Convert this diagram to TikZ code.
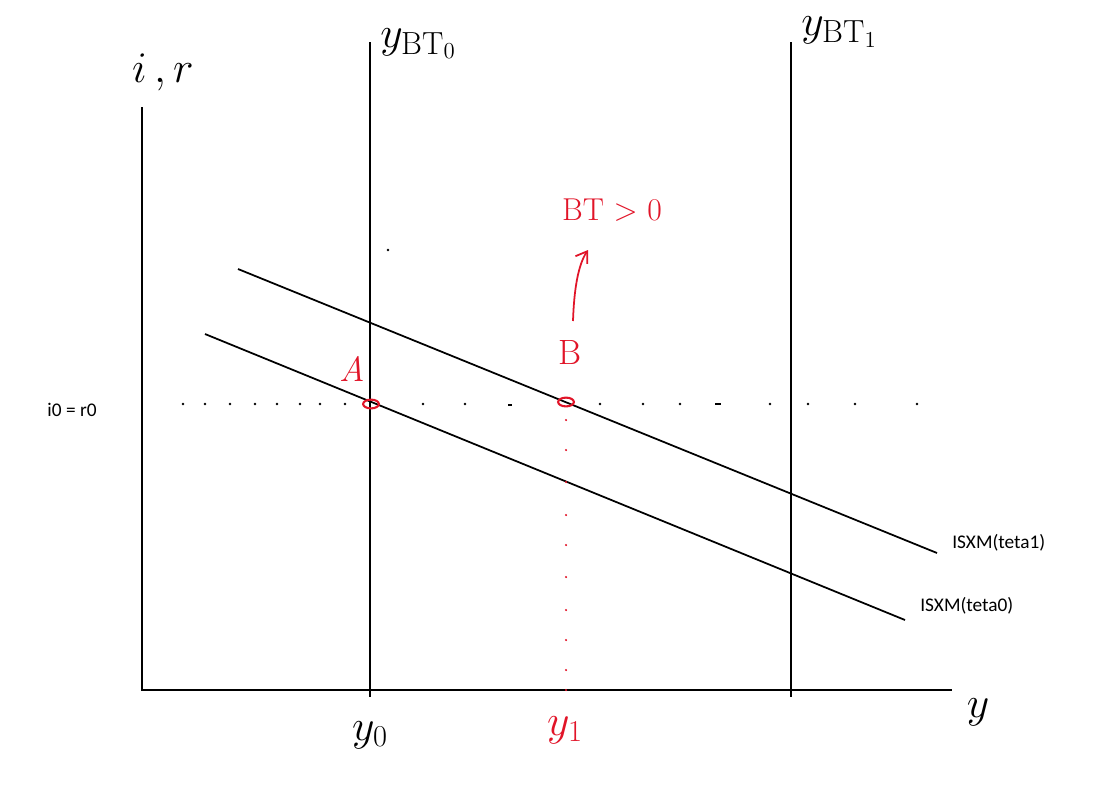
\documentclass[tikz,border=0pt]{standalone}
\usepackage{fontspec}
\newfontfamily\calib{Carlito}
\usetikzlibrary{arrows.meta,shapes.geometric}
\definecolor{pen}{RGB}{225,20,40}
\begin{document}
\begin{tikzpicture}[x=0.02cm,y=-0.02cm,
  axis/.style={line width=1.1pt,black},
  curve/.style={line width=1pt,black},
  redpen/.style={pen,line width=1pt},
  hand/.style={inner sep=0pt,font=\fontsize{26}{28}\selectfont},
  smalltxt/.style={inner sep=0pt,font=\calib\fontsize{11}{13}\selectfont},
  dot/.style={circle,fill=black,inner sep=0pt,minimum size=1.6pt},
  rdot/.style={circle,fill=pen,inner sep=0pt,minimum size=1.4pt},
  pt/.style={draw=pen,line width=1.2pt,ellipse,minimum width=9pt,minimum height=5pt,inner sep=0pt}]
\useasboundingbox (0,0) rectangle (1097,795);
% axes
\coordinate (O) at (142,690);
\coordinate (ytop) at (142,107);
\coordinate (xend) at (952,690);
\draw[axis] (ytop) -- (O) -- (xend);
% vertical BT lines
\coordinate (bt0t) at (370,42); \coordinate (bt0b) at (370,697);
\coordinate (bt1t) at (791,42); \coordinate (bt1b) at (791,697);
\draw[axis] (bt0t) -- (bt0b);
\draw[axis] (bt1t) -- (bt1b);
% IS curves
\coordinate (is1a) at (238,269); \coordinate (is1b) at (937,553);
\coordinate (is0a) at (205,334); \coordinate (is0b) at (905,620);
\draw[curve] (is1a) -- (is1b);
\draw[curve] (is0a) -- (is0b);
% dotted horizontal
\foreach \x in {183,205,230,255,277,300,320,345,423,465,600,643,680,770,808,855,917}
  \node[dot] at (\x,404) {};
\draw[line width=1pt] (508,405) -- (512,405);
\draw[line width=1pt] (715,404) -- (721,404);
\node[dot] at (388,250) {};
% red dotted vertical
\foreach \y in {420,450,482,515,545,577,610,640,670,690}
  \node[rdot] at (566,\y) {};
% points
\node[pt] (A) at (371,404) {};
\node[pt] (B) at (566,402) {};
\node[hand,pen,font=\fontsize{20}{22}\selectfont\itshape] (lA) at (352,369) {A};
\node[hand,pen,font=\fontsize{20}{22}\selectfont] (lB) at (570,352) {B};
\node[hand,pen,font=\fontsize{18}{20}\selectfont] (lBT) at (612,210) {BT > 0};
\coordinate (arrS) at (573,321);
\coordinate (arrE) at (588,250);
\draw[redpen,-{Straight Barb[length=6pt,width=8pt]}] (arrS) .. controls (574,290) and (578,265) .. (arrE);
% labels
\node[hand] (lir) at (163,72) {$i\,,r$};
\node[hand,anchor=west] (lbt0) at (380,44) {$y_{\mathrm{BT_0}}$};
\node[hand,anchor=west] (lbt1) at (801,32) {$y_{\mathrm{BT_1}}$};
\node[hand] (ly0) at (370,735) {$y_0$};
\node[hand,pen] (ly1) at (565,730) {$y_1$};
\node[hand,font=\fontsize{34}{36}\selectfont] (ly) at (978,712) {$y$};
\node[smalltxt] (li0) at (72,410) {i0 = r0};
\node[smalltxt,anchor=west] (lis1) at (952,543) {ISXM(teta1)};
\node[smalltxt,anchor=west] (lis0) at (920,606) {ISXM(teta0)};
\end{tikzpicture}
\end{document}
